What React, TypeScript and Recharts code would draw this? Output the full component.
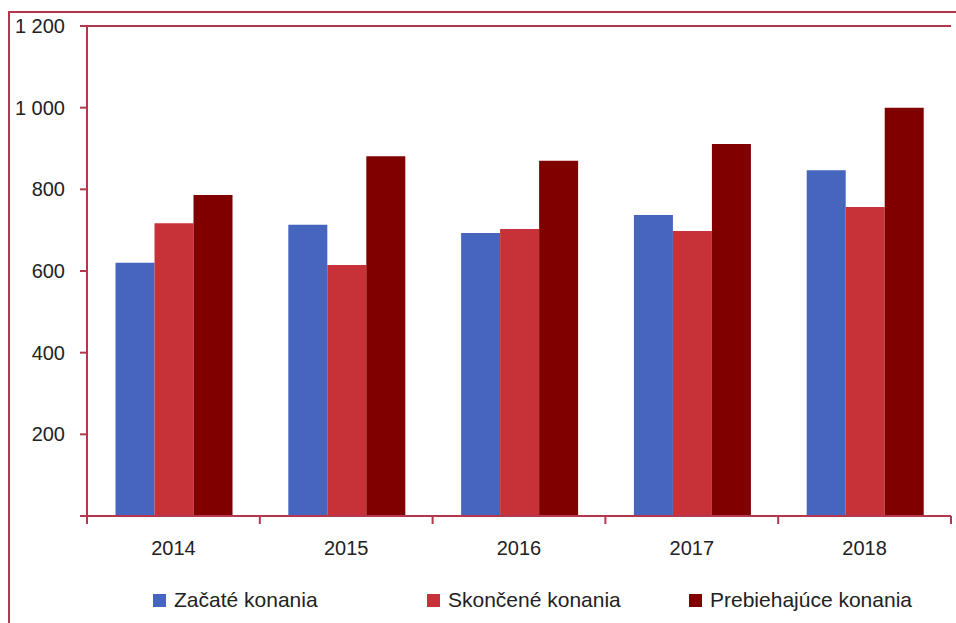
import React from 'react';
import { BarChart, Bar, XAxis, YAxis, CartesianGrid, Legend } from 'recharts';

// values
const years = ['2014', '2015', '2016', '2017', '2018'];
const zacate = [620, 713, 693, 737, 847];
const skoncene = [717, 615, 703, 698, 757];
const prebiehajuce = [786, 881, 870, 911, 1000];
const yTicks = [0, 200, 400, 600, 800, 1000, 1200];

const SERIES = [
    { key: 'zacate', name: 'Začaté konania', color: '#4565BF' },
    { key: 'skoncene', name: 'Skončené konania', color: '#C73238' },
    { key: 'prebiehajuce', name: 'Prebiehajúce konania', color: '#800000' },
];

const FRAME = '#B5374F';
const FONT = '"Liberation Sans", Arial, sans-serif';
const TEXT = '#222';

// legend item left edges, as in the original layout
const LEGEND_X = [153, 427, 689];

const data = years.map((year, i) => ({
    year,
    zacate: zacate[i],
    skoncene: skoncene[i],
    prebiehajuce: prebiehajuce[i],
}));

const formatY = (v: number) => {
    if (v === 0) return '';
    if (v >= 1000) return `${Math.floor(v / 1000)} ${String(v % 1000).padStart(3, '0')}`;
    return String(v);
};

// category label centred, tick marks on the category boundaries
const XTick = (props: any) => {
    const { x, y, payload, index, visibleTicksCount } = props;
    const half = payload && payload.offset ? payload.offset : 86.4;
    const last = index === (visibleTicksCount ?? years.length) - 1;
    return (
        <g>
            <line x1={x - half} x2={x - half} y1={y} y2={y + 8} stroke={FRAME} strokeWidth={2} />
            {last && <line x1={x + half} x2={x + half} y1={y} y2={y + 8} stroke={FRAME} strokeWidth={2} />}
            <text x={x} y={y + 39} textAnchor="middle" fill={TEXT} fontSize={20} fontFamily={FONT}>
                {payload.value}
            </text>
        </g>
    );
};

const LegendContent = () => (
    <div style={{ position: 'relative', height: 30, width: 956 }}>
        {SERIES.map((s, i) => (
            <div
                key={s.key}
                style={{
                    position: 'absolute',
                    left: LEGEND_X[i],
                    top: 0,
                    height: 30,
                    display: 'flex',
                    alignItems: 'center',
                    fontFamily: FONT,
                    fontSize: 21,
                    color: TEXT,
                    whiteSpace: 'nowrap',
                }}
            >
                <span style={{ display: 'inline-block', width: 13, height: 13, background: s.color, marginRight: 8 }} />
                {s.name}
            </div>
        ))}
    </div>
);

export default function App() {
    return (
        <div style={{ position: 'absolute', left: 0, top: 0, width: 956, height: 623, overflow: 'hidden', background: '#fff' }}>
            <div
                style={{
                    position: 'absolute',
                    left: 8,
                    top: 11,
                    width: 1000,
                    height: 700,
                    borderLeft: `2px solid ${FRAME}`,
                    borderTop: `2px solid ${FRAME}`,
                }}
            />
            <div style={{ position: 'absolute', left: 0, top: 0 }}>
                <BarChart
                    width={956}
                    height={623}
                    data={data}
                    margin={{ top: 26, right: 5, left: 0, bottom: 8 }}
                    barCategoryGap="16.5%"
                    barGap={0}
                >
                    <CartesianGrid vertical={false} stroke={FRAME} strokeWidth={2} />
                    <XAxis
                        dataKey="year"
                        height={69}
                        axisLine={{ stroke: FRAME, strokeWidth: 2 }}
                        tickLine={false}
                        tickSize={0}
                        tickMargin={0}
                        interval={0}
                        tick={<XTick />}
                    />
                    <YAxis
                        yAxisId="left"
                        width={87}
                        domain={[0, 1200]}
                        ticks={yTicks}
                        interval={0}
                        tickFormatter={formatY}
                        axisLine={{ stroke: FRAME, strokeWidth: 2 }}
                        tickLine={{ stroke: FRAME, strokeWidth: 2 }}
                        tickSize={7}
                        tickMargin={15}
                        tick={{ fill: TEXT, fontSize: 20, fontFamily: FONT }}
                    />
                    <YAxis
                        yAxisId="right"
                        orientation="right"
                        width={0}
                        domain={[0, 1200]}
                        tick={false}
                        tickLine={false}
                        axisLine={{ stroke: FRAME, strokeWidth: 2 }}
                    />
                    <Legend verticalAlign="bottom" align="left" content={<LegendContent />} />
                    {SERIES.map(s => (
                        <Bar
                            key={s.key}
                            yAxisId="left"
                            dataKey={s.key}
                            name={s.name}
                            fill={s.color}
                            isAnimationActive={false}
                        />
                    ))}
                </BarChart>
            </div>
        </div>
    );
}
